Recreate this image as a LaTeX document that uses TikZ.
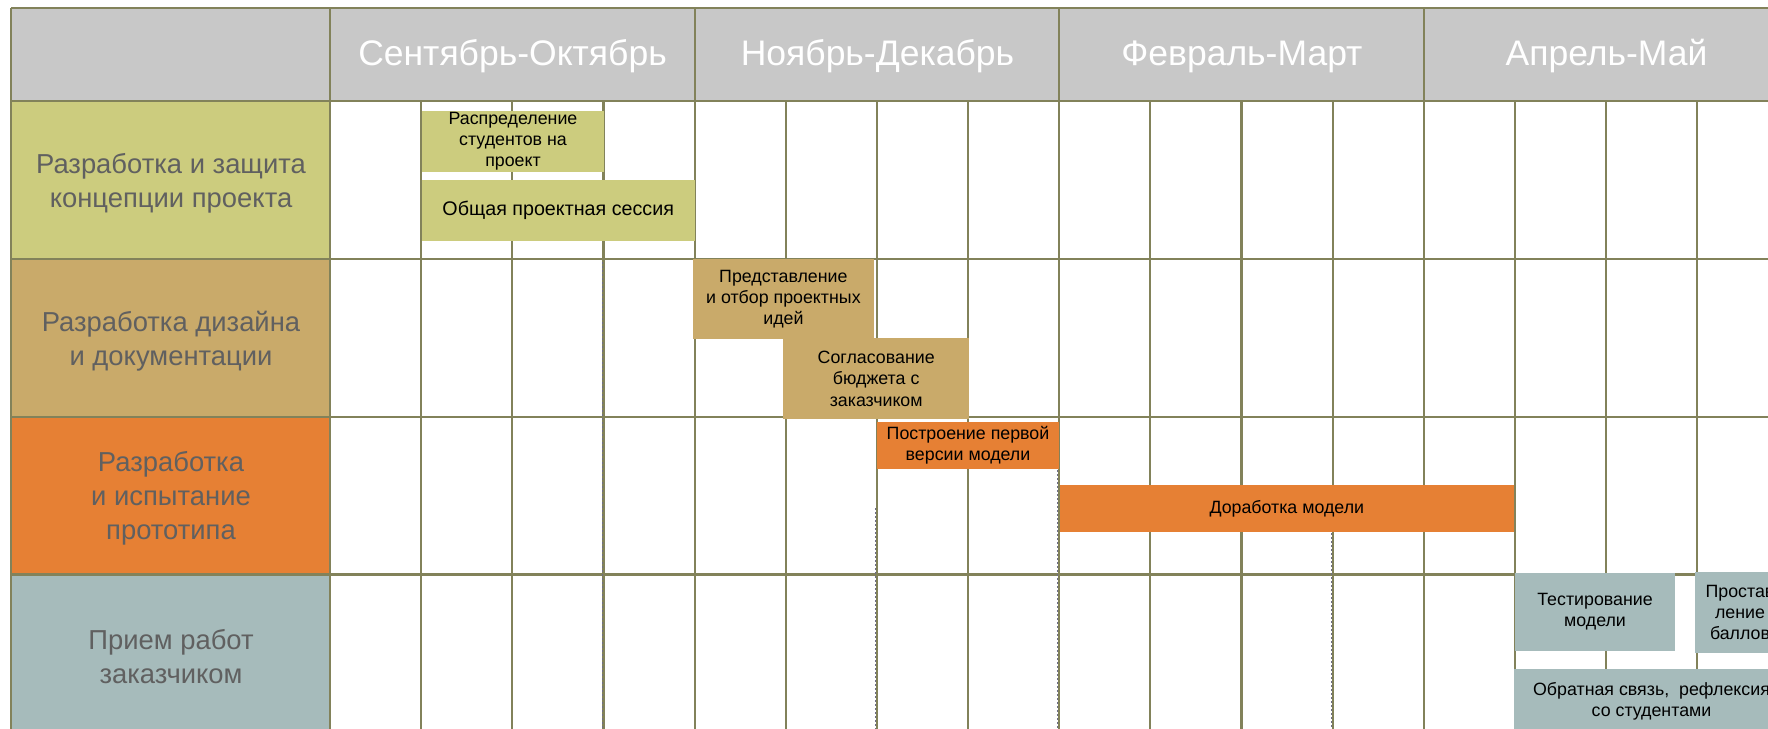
\documentclass[tikz,border=0pt]{standalone}
\usepackage{fontspec}
\setmainfont{Liberation Sans}
\definecolor{hdrc}{RGB}{200,200,200}
\definecolor{cA}{RGB}{204,204,126}
\definecolor{cB}{RGB}{201,170,106}
\definecolor{cC}{RGB}{230,128,52}
\definecolor{cD}{RGB}{166,187,187}
\definecolor{gridc}{RGB}{130,130,90}
\definecolor{lblc}{RGB}{96,96,96}
\definecolor{dotc}{RGB}{110,110,135}
\begin{document}
\begin{tikzpicture}[x=1pt,y=-1pt,
  gridline/.style={draw=gridc, line width=2.2pt},
  dotline/.style={draw=dotc, line width=1.3pt, dash pattern=on 2pt off 2pt},
  hdr/.style={inner sep=0pt, text=white, font=\fontsize{35.5}{40}\selectfont},
  lbl/.style={inner sep=0pt, align=center, text=lblc, font=\fontsize{27.4}{34}\selectfont},
  taskbox/.style={inner sep=0pt, align=center, text=black, font=\fontsize{17.8}{21.2}\selectfont},
]
\useasboundingbox (0,0) rectangle (1768,728);
\clip (0,0) rectangle (1768,728);
% fills
\fill[hdrc] (11.3,8) rectangle (1790,101);
\fill[cA] (11.3,101) rectangle (330,258.8);
\fill[cB] (11.3,258.8) rectangle (330,416.6);
\fill[cC] (11.3,416.6) rectangle (330,574.4);
\fill[cD] (11.3,574.4) rectangle (330,732);
% grid
\foreach \y in {8,101,258.8,416.6,574.4} \draw[gridline] (11.3,\y) -- (1790,\y);
\draw[gridline] (11.3,8) -- (11.3,732);
\foreach \i in {0,4,8,12,16} \draw[gridline] ({330+91.15*\i},8) -- ({330+91.15*\i},732);
\foreach \i in {1,2,3,5,6,7,9,10,11,13,14,15} \draw[gridline] ({330+91.15*\i},101) -- ({330+91.15*\i},732);
% dotted lines
\draw[dotline] (602.3,262) -- (602.3,732);
\draw[dotline] (875.8,508) -- (875.8,732);
\draw[dotline] (1057.5,470) -- (1057.5,732);
\draw[dotline] (1331.8,533) -- (1331.8,732);
% header labels
\node[hdr] (h1) at (512.5,56.5) {Сентябрь-Октябрь};
\node[hdr] (h2) at (877.5,56.5) {Ноябрь-Декабрь};
\node[hdr] (h3) at (1242,56.5) {Февраль-Март};
\node[hdr] (h4) at (1606.5,56.5) {Апрель-Май};
% row labels
\node[lbl] (r1) at (171,183) {Разработка и защита\\концепции проекта};
\node[lbl] (r2) at (171,341) {Разработка дизайна\\и документации};
\node[lbl] (r3) at (171,498) {Разработка\\и испытание\\прототипа};
\node[lbl] (r4) at (171,657) {Прием работ\\заказчиком};
% task boxes
\node[taskbox, fill=cA, minimum width=182.7pt, minimum height=61pt] (b1) at (513,141.5) {Распределение\\студентов на\\проект};
\node[taskbox, fill=cA, minimum width=272.9pt, minimum height=60.5pt, font=\fontsize{19.7}{23}\selectfont] (b2) at (558.2,210.3) {Общая проектная сессия};
\node[taskbox, fill=cB, minimum width=181.3pt, minimum height=80.3pt] (b3) at (783.4,299.2) {Представление\\и отбор проектных\\идей};
\node[taskbox, fill=cB, minimum width=186.3pt, minimum height=81.3pt] (b4) at (876.2,378.7) {Согласование\\бюджета с\\заказчиком};
\node[taskbox, fill=cC, minimum width=182.6pt, minimum height=46.7pt] (b5) at (968,445.4) {Построение первой\\версии модели};
\node[taskbox, fill=cC, minimum width=453.5pt, minimum height=47pt] (b6) at (1286.8,508.5) {Доработка модели};
\node[taskbox, fill=cD, minimum width=160pt, minimum height=77.4pt] (b7) at (1595,612) {Тестирование\\модели};
\node[taskbox, fill=cD, minimum width=90pt, minimum height=81pt] (b8) at (1740,612.2) {Простав\\ление\\баллов};
\node[taskbox, fill=cD, minimum width=275pt, minimum height=64pt] (b9) at (1651.5,701) {Обратная связь, \ рефлексия\\со студентами};
\end{tikzpicture}
\end{document}
